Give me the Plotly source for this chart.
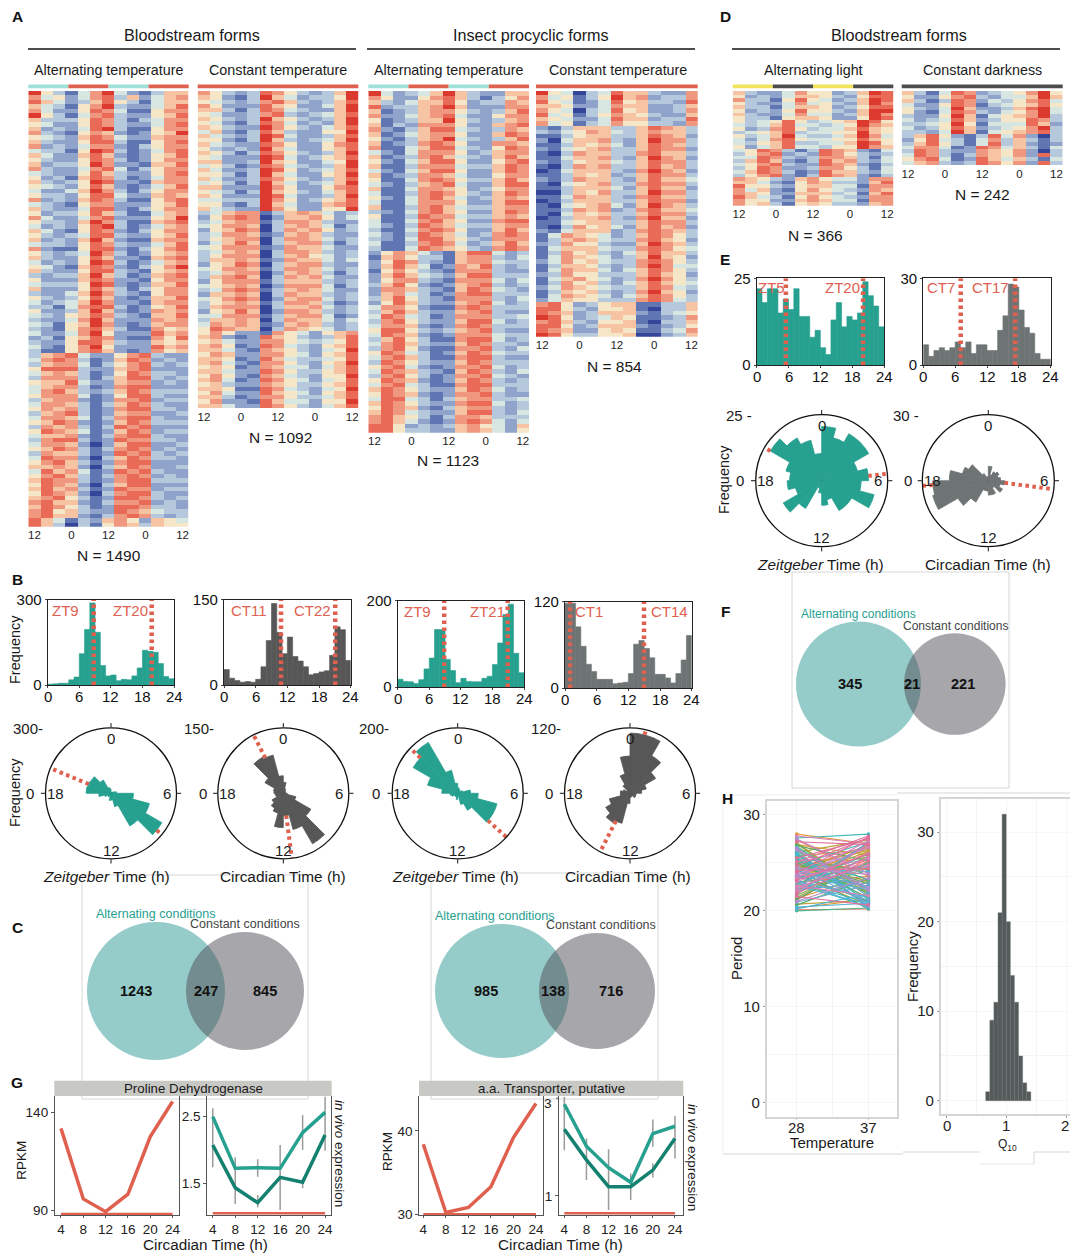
import plotly.graph_objects as go

W, H = 1070, 1254
FONT = "Liberation Sans"
RED = "#e0604f"
TEAL = "#26a08f"
TEAL2 = "#14806f"
DARK = "#575757"
GRAYG = "#6e7474"
RED_DASH = "3.5px,3.5px"

# ---------- heatmap data (digits are colour levels 0-9, one string per row) ----------
heat_bs_alt = """953 147 942 136 6|745 247 836 246 7|864 236 853 146 6|643 157 932 246 8|742 258 741 157 7|953 147 832 256 8|633 358 731 347 7|542 258 732 247 8|623 248 931 157 7|732 157 621 256 9
543 268 742 267 7|632 258 831 157 8|723 247 721 357 7|433 159 831 247 8|642 268 621 256 8|532 258 731 257 7|623 359 722 166 8|732 247 841 357 7|432 258 632 257 8|523 168 731 247 7
632 359 822 167 7|543 258 621 246 8|422 469 731 357 7|533 258 842 267 6|723 268 731 157 8|432 157 722 256 8|632 248 821 357 7|523 358 631 146 7|742 247 822 256 9|533 269 731 167 8
423 258 931 246 7|642 158 721 357 7|532 348 832 256 8|623 269 621 167 7|433 258 732 246 8|721 158 821 357 8|532 349 731 256 7|632 258 622 167 8|423 259 831 246 7|542 168 721 357 9
632 258 832 156 7|323 369 631 267 8|522 268 722 157 7|433 359 821 266 8|622 258 631 357 7|322 469 732 157 7|532 358 621 266 8|423 469 722 167 7|331 478 831 256 8|522 369 621 276 7
432 568 732 166 8|322 479 622 276 7|431 569 721 267 7|321 578 631 175 6|422 479 522 286 7|231 568 721 175 8|322 588 632 265 6|421 579 522 286 7|311 578 621 275 6
367 842 257 832 2|478 731 268 723 2|367 741 357 832 3|588 832 267 822 2|467 631 258 733 2|377 731 368 832 3|566 842 267 723 2|467 731 278 822 2|478 632 368 733 3|577 741 258 832 2
367 721 277 823 3|477 631 368 732 2|576 731 278 833 2|367 831 267 722 3|477 641 378 832 2|568 721 268 733 3|376 731 387 822 2|587 641 268 723 3|466 721 378 832 2|378 831 287 733 2
477 620 268 822 3|568 731 378 723 2|376 631 287 832 3|487 720 368 733 2|578 631 278 822 2|667 620 368 722 3|486 741 287 832 2|578 631 378 723 2|687 731 278 833 3|587 620 368 822 2
686 731 287 723 3|587 620 378 832 2|678 531 288 732 3|786 621 377 823 2|687 531 288 733 2|785 632 287 643 3|786 621 378 732 3|864 132 675 265 4|863 031 576 365 5"""
heat_bs_con = """753 238 753 236 9|652 139 642 335 9|543 237 863 236 8|752 228 652 246 9|663 138 743 226 9|542 237 832 346 8|653 239 653 236 9|542 138 742 326 9|653 229 753 246 8|462 138 632 255 9
643 239 842 236 8|552 139 632 346 9|643 228 752 257 8|532 329 642 256 8|653 138 753 236 9|542 229 842 356 8|662 239 652 245 9|453 128 743 236 9|642 239 852 346 8|553 139 642 256 9
642 238 753 236 8|453 139 642 346 9|662 229 752 257 8|543 139 653 246 8|652 229 842 236 9|443 339 752 356 8|552 139 642 267 8|643 229 752 255 9
346 771 367 642 3|257 870 266 752 4|346 771 377 632 2|457 760 367 641 3|256 870 376 752 3|347 761 267 632 2|356 770 377 642 3|246 860 367 731 3|457 771 276 642 2|346 760 377 632 3
357 770 367 542 3|366 761 276 642 4|256 870 367 732 2|457 761 377 642 3|346 770 267 631 3|367 860 376 742 2|257 771 366 632 3|456 760 277 741 3|347 871 367 642 2|266 760 376 632 3
457 870 267 742 3|356 761 377 631 2|367 770 366 742 3|256 860 277 632 3|447 771 367 741 2|366 760 376 642 4|476 761 267 632 3|587 660 376 542 3
575 221 754 256 7|672 128 653 236 8|564 227 754 345 8|675 128 743 256 8|664 217 653 245 9|576 227 754 256 8|665 128 643 345 8|674 217 753 256 9|565 127 644 246 8|664 228 753 356 8
575 217 643 255 9|674 128 754 245 8|563 227 653 356 8|665 118 743 245 9|574 228 654 256 8|663 127 753 346 8|572 218 644 255 9|664 228 753 246 8"""
heat_pc_alt = """942 346 963 226 6|752 257 863 135 7|632 466 852 337 6|823 367 962 227 7|612 367 753 236 8|722 467 842 257 7|512 366 953 236 7|613 277 752 267 8|721 368 843 237 6|612 467 752 268 7
521 367 943 236 8|612 378 752 277 6|711 468 843 258 7|421 477 752 367 7|612 378 643 268 6|521 468 852 257 8|611 377 743 368 7|421 468 852 268 7|612 377 642 257 7|511 478 753 368 6
421 367 842 268 8|611 477 652 357 7|411 378 753 268 7|521 478 642 367 6|411 477 752 268 8|611 378 643 367 7|321 478 652 268 7|511 387 743 367 6|411 478 652 278 8|421 387 643 367 7
311 478 752 268 6|421 387 642 378 7|321 488 653 277 7|411 378 742 368 6|311 487 653 278 7
257 642 168 842 3|167 533 167 732 4|258 732 167 743 3|268 641 276 832 3|157 532 177 732 2|268 643 268 833 3|257 732 177 742 4|368 521 267 832 3|277 632 168 743 2|267 431 278 833 3
368 532 177 732 4|258 632 267 842 3|477 521 178 733 3|368 632 267 832 2|487 431 277 733 4|378 532 268 842 3|477 621 278 733 3|588 532 367 832 2|487 621 277 743 3|368 531 178 842 3
478 632 268 733 2|378 521 177 832 4|587 431 268 743 3|478 631 178 832 2|387 532 268 733 3|578 421 277 842 3|487 632 168 732 4|378 531 277 843 2|587 621 268 732 3|478 431 178 833 3
687 532 268 742 3|587 621 277 832 2|488 431 367 733 4|687 532 278 842 3|587 621 367 732 3|687 432 268 832 4|786 531 377 633 3|786 421 278 742 4|885 232 367 542 6|885 332 267 642 5"""
heat_pc_con = """954 034 866 322 7|745 135 967 233 7|854 124 856 332 8|665 224 766 223 6|754 034 856 223 7|845 135 765 322 6|654 224 866 233 8|745 134 755 332 7
213 666 336 876 3|324 576 436 766 3|113 566 336 876 2|204 667 326 977 3|113 656 426 876 3|214 567 336 877 2|103 766 337 866 3|114 667 326 976 2|213 566 436 877 3|103 767 336 867 3
014 666 327 976 2|113 656 236 877 3|213 766 326 866 4|104 567 337 877 3|113 666 426 866 2|003 657 336 977 3|114 766 327 866 3|013 666 336 877 2|104 567 426 976 3|113 767 237 866 4
104 656 336 877 3|013 667 327 966 2|114 566 336 877 3|103 756 426 867 2|214 666 237 876 3
147 654 236 875 3|136 764 337 865 2|237 553 226 976 3|146 664 337 875 4|137 563 246 866 3|147 654 236 965 2|247 564 337 875 3|136 653 237 974 4|147 664 246 875 3|237 553 336 865 2
146 754 237 975 3|137 563 246 865 4|247 654 336 874 3|136 563 237 965 2|147 654 246 875 3|246 553 337 874 3
785 235 661 133 6|885 325 561 033 6|876 236 662 134 5|985 234 651 123 7|786 325 561 033 6|885 236 662 123 5|876 225 651 134 7|985 335 560 023 6"""
heat_light = """632 247 552 369 8|523 246 653 258 8|733 158 542 369 8|532 247 453 269 7|633 146 652 358 8|523 258 553 269 9|632 247 442 369 7|533 156 652 259 8
534 585 345 698 5|434 684 434 597 6|523 785 344 686 5|345 683 445 596 5|534 694 334 697 4|424 785 445 586 5|435 683 344 698 5|524 684 435 597 6
458 731 387 621 4|357 823 287 532 3|448 732 377 631 4|368 621 386 732 4|457 832 287 621 3|358 722 377 531 4|468 731 286 632 4|357 821 387 621 3
765 326 754 427 7|664 215 763 326 8|855 325 664 417 7|746 215 754 327 6|765 226 663 416 8|864 315 754 327 7|755 226 764 417 7|756 315 653 326 7"""
heat_dark = """631 487 234 579 5|522 578 324 469 6|631 387 243 578 4|422 587 134 568 5|532 496 223 689 4|521 487 324 579 4|322 596 145 679 3|423 486 235 587 3|334 595 144 486 2|423 586 234 579 3|332 496 145 678 3
368 521 384 720 3|258 431 473 631 3|368 531 483 621 2|477 412 874 631 4|387 322 765 720 3|487 313 765 728 3|578 412 864 631 4|467 323 875 728 3"""
heat_ticks_x = [0, 3, 6, 9, 12]
heat_ticks_t = ["12", "0", "12", "0", "12"]
heat_colors = ["#34459a", "#5f76b3", "#8fa3cb", "#b6c9dc", "#d8e6e2", "#f6e6c8", "#f6c4a2", "#f0987f", "#e86a57", "#dc3a2e"]

# ---------- histogram / rose data ----------
hist_b1 = [3, 4, 6, 6, 18, 28, 110, 195, 288, 185, 68, 32, 35, 15, 20, 18, 32, 60, 122, 118, 115, 75, 30, 22]
hist_b2 = [27, 12, 8, 5, 6, 5, 10, 32, 78, 143, 92, 55, 84, 50, 42, 32, 18, 20, 23, 25, 52, 102, 97, 43]
hist_b3 = [18, 13, 12, 8, 17, 42, 67, 133, 133, 64, 38, 10, 20, 13, 12, 12, 20, 25, 52, 102, 168, 192, 78, 33]
hist_b4 = [118, 118, 85, 58, 33, 23, 12, 12, 12, 6, 7, 8, 20, 61, 66, 55, 42, 19, 19, 14, 7, 20, 39, 73]
hist_e1 = [22, 18, 22, 22, 15, 19, 16, 22, 14, 14, 8, 10, 5, 3, 13, 18, 11, 14, 13, 15, 24, 20, 17, 11]
hist_e2 = [7, 3, 5, 6, 5, 6, 8, 6, 8, 4, 7, 7, 5, 5, 12, 17, 28, 27, 19, 13, 11, 4, 2, 2]
bins = list(range(24))
hist_ticks = [0, 6, 12, 18, 24]

# ---------- line panels ----------
g_hours = [4, 8, 12, 16, 20, 24]
g1_rpkm = [132, 96, 89.5, 98.4, 127.8, 145.7]
g1_light = [2.5, 1.725, 1.735, 1.725, 2.26, 2.565]
g1_dark = [2.075, 1.435, 1.21, 1.59, 1.515, 2.225]
g1_err_h = [4, 8, 12, 12, 16, 20, 20, 24]
g1_err_lo = [1.74, 1.19, 1.6, 1.14, 1.1, 2.0, 1.425, 1.99]
g1_err_hi = [2.625, 1.89, 1.86, 1.325, 2.075, 2.525, 1.575, 2.8]
g2_rpkm = [38.4, 30.2, 30.8, 33.3, 39.2, 43.3]
g2_light = [2.88, 2.02, 1.58, 1.28, 2.28, 2.43]
g2_dark = [2.37, 1.74, 1.19, 1.19, 1.53, 2.18]
g2_err_h = [4, 8, 12, 16, 20, 20, 24]
g2_err_lo = [1.94, 1.33, 0.71, 0.92, 2.01, 1.38, 1.77]
g2_err_hi = [3.03, 2.18, 1.96, 1.46, 2.57, 1.67, 2.64]

period_28 = [28, 27.6, 27.2, 26.8, 26.5, 26.1, 25.9, 25.6, 25.3, 25.1, 24.9, 24.6, 24.4, 24.2, 24, 23.8, 23.6, 23.4, 23.2, 23, 22.8, 22.6, 22.4, 22.2, 22, 21.7, 21.5, 21.2, 21, 20.7, 20.4, 20.1, 20, 27.8, 27, 26.3, 25.7, 25.2, 24.7, 24.3, 23.9, 23.5, 23.1, 22.7, 22.3, 21.9, 21.4, 20.9, 20.3, 26, 25.5, 25, 24.5, 24.1, 23.7, 23.3, 22.9, 22.5, 24.8, 26.6, 23.5, 25.4, 24.2, 22.1,
             26.4, 24.6, 22.6, 27.4, 25.8, 23.4, 21.6, 24, 26.9, 22.9, 25.1, 20.6, 23.7, 27.1, 24.4, 21.1, 25.6, 23, 26.2, 22.4, 24.9, 23.3, 21.8, 25.3, 27.5, 23.8, 20.2, 24.3, 26.7, 22.2, 25, 23.6, 21.3, 24.7, 23.2, 26.1]
period_37 = [27, 28, 26.9, 25.2, 22.1, 27.4, 20.5, 24, 21.3, 26.6, 23.1, 20.8, 25.6, 22.5, 27.7, 21, 24.8, 26.2, 20.3, 23.6, 25.9, 21.6, 26.9, 22.9, 24.5, 27.2, 20.6, 25.1, 23.4, 21.1, 20.8, 20.2, 20.3, 27, 21.7, 20.4, 26.4, 22.3, 27.6, 20.2, 25.4, 23, 21.4, 26.1, 24.2, 27, 25, 22.7, 21.2, 20.9, 27.5, 21.8, 23.8, 26.8, 22.2, 25.3, 20.4, 24.7, 22, 21.5, 26.5, 23.3, 24.4, 25.7,
             22.4, 26.3, 20.7, 23.6, 21.2, 27.3, 24.9, 22.6, 25.8, 20.9, 27.8, 23.4, 26.6, 21.9, 24.1, 25.5, 20.5, 26, 23.2, 27.1, 21.4, 24.6, 25.2, 22.8, 23.9, 20.6, 21.8, 26.8, 22.1, 25.6, 24.3, 21.1, 23.7, 27.2, 25.9, 20.4]
period_colors = ["#f8766d", "#e09a3a", "#b9a03c", "#8aa84a", "#5aab62", "#4cb88c", "#3fb8b8", "#4ab5d9", "#6ca6cf", "#b58acb", "#dc7fb5", "#e0709a"]
q10_edges = [0.654, 0.723, 0.791, 0.860, 0.929, 0.998, 1.066, 1.135, 1.204, 1.272, 1.341]
q10_counts = [1, 9, 11, 21, 32, 20, 14, 11, 5, 2, 1]

venn_sets = [("1243", "247", "845"), ("985", "138", "716"), ("345", "21", "221")]

# ---------- helpers ----------
fig = go.Figure()
layout = {}
ann = []
shapes = []
naxes = 0
npol = 0


def px(x):
    return x / W


def py(y):
    return 1 - y / H


def T(x, y, text, size=14, color="#1a1a1a", xanchor="center", angle=0):
    ann.append(dict(x=px(x), y=py(y), xref="paper", yref="paper", text=text, showarrow=False,
                    font=dict(family=FONT, size=size, color=color), xanchor=xanchor, yanchor="middle",
                    textangle=angle))


def line(x0, y0, x1, y1, color="#d6d6d6", width=1, layer="below"):
    shapes.append(dict(type="line", xref="paper", yref="paper", x0=px(x0), x1=px(x1), y0=py(y0), y1=py(y1),
                       line=dict(color=color, width=width), layer=layer))


def rect(x0, y0, x1, y1, color, layer="above"):
    shapes.append(dict(type="rect", xref="paper", yref="paper", x0=px(x0), x1=px(x1), y0=py(y0), y1=py(y1),
                       fillcolor=color, line=dict(width=0), layer=layer))


def axes(x0, x1, y0, y1, xa, ya):
    global naxes
    naxes += 1
    layout[f"xaxis{naxes}"] = dict(domain=[px(x0), px(x1)], anchor=f"y{naxes}", automargin=False, **xa)
    layout[f"yaxis{naxes}"] = dict(domain=[py(y1), py(y0)], anchor=f"x{naxes}", automargin=False, **ya)
    return f"x{naxes}", f"y{naxes}"


def heat(rows, x0, x1, y0, y1):
    z = [[int(c) for c in r.replace(" ", "")] for r in rows.replace("\n", "|").split("|")]
    tf = dict(family=FONT, size=11.5, color="#222")
    xa, ya = axes(x0, x1, y0, y1,
                  dict(range=[-0.5, 12.5], tickvals=heat_ticks_x, ticktext=heat_ticks_t, tickfont=tf, ticks="",
                       showgrid=False, zeroline=False, showline=False),
                  dict(range=[len(z) - 0.5, -0.5], showticklabels=False, ticks="", showgrid=False, zeroline=False))
    cs = [[i / 9, c] for i, c in enumerate(heat_colors)]
    fig.add_trace(go.Heatmap(z=z, xaxis=xa, yaxis=ya, zmin=0, zmax=9, colorscale=cs, showscale=False))


def hist(vals, ymax, x0, x1, y0, y1, color, vlines, labels):
    tf = dict(family=FONT, size=15, color="#111")
    xa, ya = axes(x0, x1, y0, y1,
                  dict(range=[0, 24], tickvals=hist_ticks, showticklabels=False, ticks="outside", ticklen=2,
                       showgrid=False, zeroline=False, showline=True, linecolor="#222", linewidth=1.2, mirror=True),
                  dict(range=[0, ymax], tickvals=[0, ymax], tickfont=tf, ticks="outside", ticklen=2,
                       showgrid=False, zeroline=False, showline=True, linecolor="#222", linewidth=1.2, mirror=True))
    fig.add_trace(go.Bar(x=[b + 0.5 for b in bins], y=vals, width=1, marker=dict(color=color, line=dict(color=color, width=0.6)),
                         xaxis=xa, yaxis=ya))
    for v in vlines:
        fig.add_trace(go.Scatter(x=[v, v], y=[0, ymax], mode="lines", xaxis=xa, yaxis=ya,
                                 line=dict(color=RED, width=4.5, dash=RED_DASH)))
    for t in hist_ticks:
        T(x0 + t / 24 * (x1 - x0), y1 + 11.5, str(t), 15, "#111")
    for lx, ly, t in labels:
        T(lx, ly, t, 15, RED)


def rose(vals, ymax, cx, cy, r, color, hours, toplabel, top_x, zero_x):
    global npol
    npol += 1
    name = "polar" if npol == 1 else f"polar{npol}"
    rmax = ymax * 1.07
    layout[name] = dict(domain=dict(x=[px(cx - r), px(cx + r)], y=[py(cy + r), py(cy - r)]),
                        bgcolor="rgba(0,0,0,0)",
                        radialaxis=dict(range=[0, rmax], visible=False),
                        angularaxis=dict(rotation=90, direction="clockwise", tickvals=[0, 90, 180, 270],
                                         showticklabels=False, ticks="outside", ticklen=4, tickcolor="#111",
                                         linecolor="#111", linewidth=1.3, showgrid=False))
    fig.add_trace(go.Barpolar(r=vals, theta=[(b + 0.5) * 15 for b in bins], width=[15] * 24, subplot=name,
                              marker=dict(color=color, line=dict(color=color, width=0.8))))
    for h in hours:
        k = int(h) % 24
        fig.add_trace(go.Scatterpolar(r=[vals[k], rmax], theta=[h * 15, h * 15], mode="lines", subplot=name,
                                      line=dict(color=RED, width=4, dash=RED_DASH)))
    T(cx, cy - 55, "0", 15)
    T(cx + 56, cy, "6", 15)
    T(cx, cy + 57, "12", 15)
    T(cx - 56, cy, "18", 15)
    T(top_x, cy - 65, toplabel, 15, xanchor="right")
    T(zero_x, cy, "0", 15, xanchor="right")


def gpanel(x0, x1, xr, yr, yticks, traces, errs=None, base=None):
    tf = dict(family=FONT, size=13.5, color="#222")
    xa, ya = axes(x0, x1, 1096, 1215,
                  dict(range=xr, tickvals=g_hours, tickfont=tf, ticks="outside", ticklen=2, tickcolor="#555",
                       showgrid=False, zeroline=False, showline=True, linecolor="#555", linewidth=1.3),
                  dict(range=yr, tickvals=yticks, tickfont=tf, ticks="outside", ticklen=3, tickcolor="#555",
                       showgrid=False, zeroline=False, showline=True, linecolor="#555", linewidth=1.3, mirror=True))
    if errs:
        h, lo, hi = errs
        for a, b, c in zip(h, lo, hi):
            fig.add_trace(go.Scatter(x=[a, a], y=[b, c], mode="lines", xaxis=xa, yaxis=ya, cliponaxis=False,
                                     line=dict(color="#9a9a9a", width=1.5)))
    for vals, color in traces:
        fig.add_trace(go.Scatter(x=g_hours, y=vals, mode="lines", xaxis=xa, yaxis=ya, cliponaxis=False,
                                 line=dict(color=color, width=3.5)))
    fig.add_trace(go.Scatter(x=[4, 24], y=[base, base], mode="lines", xaxis=xa, yaxis=ya, cliponaxis=False,
                             line=dict(color=RED, width=2.5)))


# ---------- background leftover frames ----------
for x0, y0, x1, y1 in [(82, 875, 308, 1099), (431, 873, 658, 1099), (792, 572, 1009, 788)]:
    line(x0, y0, x1, y0)
    line(x0, y1, x1, y1)
    line(x0, y0, x0, y1)
    line(x1, y0, x1, y1)
line(723, 795, 897, 795, "#eeeeee")
line(723, 795, 723, 1154, "#eeeeee")
line(723, 1154, 903, 1154)
line(897, 793, 1070, 793)
line(903, 1152, 980, 1152)
line(980, 1164, 1034, 1164, "#e8e8e8")
line(1034, 1152, 1034, 1164)
line(1034, 1152, 1070, 1152)

# ---------- A, D ----------
heat(heat_bs_alt, 28.3, 188.7, 91, 526.7)
heat(heat_bs_con, 197.7, 358.3, 91, 408.3)
heat(heat_pc_alt, 368.3, 529, 91, 432.7)
heat(heat_pc_con, 536, 697.7, 91, 336.7)
heat(heat_light, 732.7, 893.3, 91, 205.7)
heat(heat_dark, 901.7, 1062.7, 91, 165)

for x0, x1, t in [(28, 356, "Bloodstream forms"), (367, 695, "Insect procyclic forms"), (732, 1060, "Bloodstream forms")]:
    line(x0, 49, x1, 49, "#111", 1.5, "above")
    T((x0 + x1) / 2 + (0 if x0 != 732 else 3), 35, t, 16.2)
for cx, t in [(108, "Alternating temperature"), (278, "Constant temperature"), (448, "Alternating temperature"),
              (618, "Constant temperature"), (813, "Alternating light"), (982, "Constant darkness")]:
    T(cx, 70, t, 14.3)
for cx, cy, t in [(109, 556, "N = 1490"), (280, 438, "N = 1092"), (448, 460, "N = 1123"), (614, 366, "N = 854"),
                  (815, 235, "N = 366"), (982, 195, "N = 242")]:
    T(cx, cy, t, 15.5)


def bar4(x0, x1, c1, c2):
    w = (x1 - x0) / 4
    for i in range(4):
        rect(x0 + i * w, 84.5, x0 + (i + 1) * w, 88.3, c1 if i % 2 == 0 else c2)


bar4(28.3, 188.7, "#9fe0d8", RED)
rect(197.7, 84.5, 358.3, 88.3, RED)
bar4(368.3, 529, "#9fe0d8", RED)
rect(536, 84.5, 697.7, 88.3, RED)
bar4(732.7, 893.3, "#f2e35f", "#4d4d4d")
rect(901.7, 84.5, 1062.7, 88.3, "#4d4d4d")

# ---------- B ----------
hist(hist_b1, 300, 47.7, 174, 599.5, 685, TEAL, [8.74, 19.76], [(65, 610, "ZT9"), (130, 610, "ZT20")])
hist(hist_b2, 150, 224, 350.7, 599.5, 685, DARK, [10.8, 21.07], [(249, 610, "CT11"), (312, 610, "CT22")])
hist(hist_b3, 200, 397.7, 524, 600.7, 687, TEAL, [8.84, 20.9], [(417, 611, "ZT9"), (488, 611, "ZT21")])
hist(hist_b4, 120, 565, 691.7, 601.7, 688, GRAYG, [0.95, 14.97], [(589, 611, "CT1"), (669, 611, "CT14")])
rose(hist_b1, 300, 111, 793.3, 65.5, TEAL, [8.6, 19.5], "300-", 45, 36)
rose(hist_b2, 150, 283.3, 793.3, 65.5, DARK, [11.5, 22.2], "150-", 216, 209)
rose(hist_b3, 200, 457.7, 793.3, 65.5, TEAL, [8.8, 20.9], "200-", 391, 382)
rose(hist_b4, 120, 630, 793.3, 65.5, DARK, [0.93, 13.8], "120-", 563, 555)
T(15, 650, "Frequency", 14.5, angle=-90)
T(15, 793, "Frequency", 14.5, angle=-90)
for cx, t in [(106, "<i>Zeitgeber</i> Time (h)"), (283, "Circadian Time (h)"), (455, "<i>Zeitgeber</i> Time (h)"),
              (628, "Circadian Time (h)")]:
    T(cx, 876, t, 15.4)

# ---------- E ----------
hist(hist_e1, 25, 756.7, 884, 278.3, 365, TEAL, [5.5, 20.05], [(771, 288, "ZT5"), (842, 288, "ZT20")])
hist(hist_e2, 30, 923.3, 1050.7, 278.3, 365, GRAYG, [7.05, 17.3], [(941, 288, "CT7"), (990, 288, "CT17")])
rose(hist_e1, 25, 821.7, 480.7, 66, TEAL, [5.6, 20], "25 -", 754, 746)
rose(hist_e2, 30, 988.3, 480.7, 66, GRAYG, [6.5, 17.7], "30 -", 921, 914)
T(724, 480, "Frequency", 14.5, angle=-90)
T(820, 564, "<i>Zeitgeber</i> Time (h)", 15.4)
T(988, 564, "Circadian Time (h)", 15.4)

# ---------- C, F venn ----------
venns = [(156, 991, 69, 245, 991, 59, 136, 205.5, 264.5, (156, 914), (245, 924), 12.5),
         (502, 991, 67, 597, 991, 58, 486, 553, 611, (495, 916), (601, 925), 12.5),
         (858.5, 684, 62.5, 954.8, 684, 50.8, 849.5, 912, 963, (858.5, 614), (955, 626), 12)]
for s, v in zip(venn_sets, venns):
    cx1, cy1, r1, cx2, cy2, r2, t1, t2, t3, lab1, lab2, lab_size = v
    for cx, cy, r, c in [(cx1, cy1, r1, "rgba(78,168,163,0.6)"), (cx2, cy2, r2, "rgba(80,78,86,0.5)")]:
        shapes.append(dict(type="circle", xref="paper", yref="paper", x0=px(cx - r), x1=px(cx + r),
                           y0=py(cy + r), y1=py(cy - r), fillcolor=c, line=dict(width=0), layer="above"))
    T(t1, cy1, f"<b>{s[0]}</b>", 14.5, "#111")
    T(t2, cy1, f"<b>{s[1]}</b>", 14.5, "#111")
    T(t3, cy1, f"<b>{s[2]}</b>", 14.5, "#111")
    T(lab1[0], lab1[1], "Alternating conditions", lab_size, TEAL)
    T(lab2[0], lab2[1], "Constant conditions", lab_size, "#444")

# ---------- G ----------
rect(54.3, 1080.7, 331.7, 1096, "#c8c8c4")
rect(419, 1080.7, 683.3, 1096, "#c8c8c4")
T(193, 1088, "Proline Dehydrogenase", 13.3)
T(551, 1088, "a.a. Transporter, putative", 13.3)
gpanel(55, 179.3, [2.93, 25.2], [87.8, 148.5], [90, 140], [(g1_rpkm, RED)], base=88.3)
gpanel(207.3, 330.7, [3.03, 25.0], [1.025, 2.81], [1.5, 2.5], [(g1_light, TEAL), (g1_dark, TEAL2)],
       (g1_err_h, g1_err_lo, g1_err_hi), 1.05)
gpanel(419.3, 543.3, [3.29, 25.3], [29.9, 44.2], [30, 40], [(g2_rpkm, RED)], base=30)
gpanel(559, 682.7, [3.04, 25.4], [0.61, 3.05], [1], [(g2_light, TEAL), (g2_dark, TEAL2)],
       (g2_err_h, g2_err_lo, g2_err_hi), 0.645)
line(556, 1098.3, 559, 1098.3, "#555", 1, "above")
T(554, 1103, "3", 13.5, "#222", xanchor="right")
T(20.7, 1160, "RPKM", 13.5, angle=-90)
T(387, 1152, "RPKM", 13.5, angle=-90)
T(340, 1153, "<i>in vivo</i> expression", 13.5, angle=90)
T(693, 1157, "<i>in vivo</i> expression", 13.5, angle=90)
T(205, 1244.5, "Circadian Time (h)", 15.3)
T(560, 1244.5, "Circadian Time (h)", 15.3)

# ---------- H ----------
frame = dict(showline=True, linecolor="#d5d5d5", linewidth=1.5, zeroline=False)
tfh = dict(family=FONT, size=15, color="#222")
xa, ya = axes(766.7, 897, 801, 1116.7,
              dict(range=[-0.419, 1.40], tickvals=[0, 1], showticklabels=False, ticks="outside",
                   ticklen=2, tickcolor="#ccc", showgrid=True, gridcolor="#f4f4f4", mirror=True,
                   minor=dict(tickvals=[0.5], showgrid=True, gridcolor="#f4f4f4"), **frame),
              dict(range=[-1.45, 31.45], tickvals=[0, 10, 20, 30], tickfont=tfh, ticks="outside", ticklen=2,
                   tickcolor="#999", showgrid=True, gridcolor="#f7f7f7", mirror=True,
                   minor=dict(tickvals=[5, 15, 25], showgrid=True, gridcolor="#f4f4f4"), **frame))
pair_color = [(i * 5 + 1) % 12 for i in range(len(period_28))]
for i in sorted(range(len(period_28)), key=lambda k: pair_color[k]):
    c = period_colors[pair_color[i]]
    fig.add_trace(go.Scatter(x=[0, 1], y=[period_28[i], period_37[i]], mode="lines+markers", xaxis=xa, yaxis=ya,
                             line=dict(color=c, width=1.1), marker=dict(size=3.5, color=c)))
T(796.7, 1127.5, "28", 15, "#222")
T(868.3, 1127.5, "37", 15, "#222")
xa, ya = axes(940.7, 1070, 799, 1114,
              dict(range=[-0.1, 2.066], tickvals=[0, 1, 2], showticklabels=False, ticks="outside", ticklen=2,
                   tickcolor="#999", showgrid=True, gridcolor="#f7f7f7", mirror=True,
                   minor=dict(tickvals=[0.5, 1.5], showgrid=True, gridcolor="#f4f4f4"), **frame),
              dict(range=[-1.48, 33.7], tickvals=[0, 10, 20, 30], tickfont=tfh, ticks="outside", ticklen=2,
                   tickcolor="#999", showgrid=True, gridcolor="#f7f7f7",
                   minor=dict(tickvals=[5, 15, 25], showgrid=True, gridcolor="#f4f4f4"), **frame))
fig.add_trace(go.Bar(x=[e + 0.0343 for e in q10_edges], y=q10_counts, width=0.0687, xaxis=xa, yaxis=ya,
                     marker=dict(color="#555a5a", line=dict(color="#6a6e6e", width=0.4))))
T(946.7, 1125.5, "0", 15, "#222")
T(1006.3, 1125.5, "1", 15, "#222")
T(1065, 1125.5, "2", 15, "#222")
T(736, 959, "Period", 15, angle=-90)
T(832, 1142.5, "Temperature", 15)
T(912, 967, "Frequency", 15, angle=-90)
T(1007.7, 1145, "Q<sub>10</sub>", 12)

# ---------- panel letters ----------
for x, y, t in [(17, 16, "A"), (17, 579, "B"), (17, 927, "C"), (725, 16, "D"), (725, 259, "E"), (725, 611, "F"),
                (17, 1082, "G"), (727, 798, "H")]:
    T(x, y, f"<b>{t}</b>", 15.5, "#111")

fig.update_layout(**layout)
fig.update_layout(width=W, height=H, margin=dict(l=0, r=0, t=0, b=0), autosize=False, showlegend=False,
                  paper_bgcolor="white", plot_bgcolor="rgba(0,0,0,0)", annotations=ann, shapes=shapes,
                  barmode="overlay", font=dict(family=FONT), hovermode=False)
fig.write_html("out.html", post_script="document.body.style.margin='0';document.body.style.overflow='hidden';",
               config=dict(displayModeBar=False))
